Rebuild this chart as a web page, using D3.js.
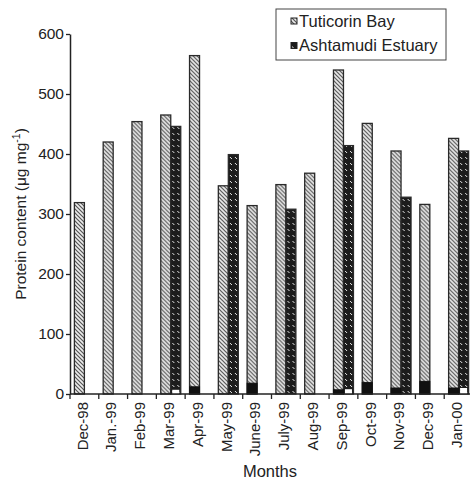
<!DOCTYPE html>
<html>
<head>
<meta charset="utf-8">
<script src="https://cdn.jsdelivr.net/npm/d3@7.9.0/dist/d3.min.js"></script>
<style>
  body { margin: 0; background: #fff; }
  svg { font-family: "Liberation Sans", Arial, sans-serif; }
</style>
</head>
<body>
<svg id="chart" width="476" height="481"></svg>
<script>
// data
const months = ['Dec-98', 'Jan.-99', 'Feb-99', 'Mar-99', 'Apr-99', 'May-99', 'June-99',
                'July-99', 'Aug-99', 'Sep-99', 'Oct-99', 'Nov-99', 'Dec-99', 'Jan-00'];
const tuticorin = [319, 420, 454, 465, 564, 347, 314, 349, 368, 540, 451, 405, 316, 426];
const ashtamudi = [null, null, null, 446, null, 399, null, 308, null, 414, null, 328, null, 405];
// small marks sitting at the foot of the bars
const tuticorinLow = [0, 0, 0, 0, 12, 0, 18, 0, 0, 7, 19, 10, 21, 10];
const ashtamudiLow = [0, 0, 0, 7, 0, 0, 0, 0, 0, 8, 0, 0, 0, 10];
const series = ['Tuticorin Bay', 'Ashtamudi Estuary'];
const yTicks = [0, 100, 200, 300, 400, 500, 600];

const svg = d3.select('#chart');
const plotLeft = 70, plotRight = 473, plotTop = 34, plotBottom = 394;

const x = d3.scaleBand().domain(months).range([plotLeft, plotRight]).padding(0);
const x1 = d3.scaleBand().domain(series).range([0, x.bandwidth()]).paddingInner(0).paddingOuter(0.44);
const y = d3.scaleLinear().domain([0, 600]).range([plotBottom, plotTop]);

// hatch patterns
const defs = svg.append('defs');
let p1 = defs.append('pattern').attr('id', 'hatchLight')
    .attr('patternUnits', 'userSpaceOnUse').attr('width', 4).attr('height', 4);
p1.append('rect').attr('width', 4).attr('height', 4).attr('fill', '#ececec');
p1.append('path').attr('d', 'M0,0 L4,4 M-1,3 L1,5 M3,-1 L5,1')
    .attr('stroke', '#555').attr('stroke-width', 1.2);

let p2 = defs.append('pattern').attr('id', 'hatchDark')
    .attr('patternUnits', 'userSpaceOnUse').attr('width', 5).attr('height', 6);
p2.append('rect').attr('width', 5).attr('height', 6).attr('fill', '#1c1c1c');
p2.append('path').attr('d', 'M1,1 L3,3').attr('stroke', '#e8e8e8').attr('stroke-width', 1);

const fills = { 'Tuticorin Bay': 'url(#hatchLight)', 'Ashtamudi Estuary': 'url(#hatchDark)' };

// bars
const rows = months.map((m, i) => ({
    month: m,
    vals: [
        { key: series[0], value: tuticorin[i], low: tuticorinLow[i] },
        { key: series[1], value: ashtamudi[i], low: ashtamudiLow[i] }
    ]
}));

const groups = svg.append('g').selectAll('g')
    .data(rows)
    .join('g')
    .attr('transform', d => `translate(${x(d.month)},0)`);

groups.selectAll('rect.bar')
    .data(d => d.vals.filter(v => v.value != null))
    .join('rect')
    .attr('class', 'bar')
    .attr('x', d => x1(d.key))
    .attr('width', x1.bandwidth())
    .attr('y', d => y(d.value))
    .attr('height', d => y(0) - y(d.value))
    .attr('fill', d => fills[d.key])
    .attr('stroke', '#2a2a2a')
    .attr('stroke-width', 1.3);

// little foot marks
groups.selectAll('rect.low')
    .data(d => d.vals.filter(v => v.low > 0))
    .join('rect')
    .attr('class', 'low')
    .attr('x', d => x1(d.key) + (d.key === series[0] ? 0 : 1.5))
    .attr('width', d => x1.bandwidth() - (d.key === series[0] ? 0 : 3))
    .attr('y', d => y(d.low))
    .attr('height', d => y(0) - y(d.low))
    .attr('fill', d => d.key === series[0] ? '#111' : '#fff')
    .attr('stroke', d => d.key === series[0] ? '#111' : 'none');

// y axis
const yAxis = svg.append('g')
    .attr('transform', `translate(${plotLeft},0)`)
    .call(d3.axisLeft(y).tickValues(yTicks).tickSize(4).tickSizeOuter(0).tickPadding(2));
yAxis.select('.domain').attr('stroke', '#222').attr('stroke-width', 1.5);
yAxis.selectAll('.tick line').attr('stroke', '#222').attr('stroke-width', 1.3);
yAxis.selectAll('.tick text').attr('font-size', 15.5).attr('fill', '#222')
    .attr('font-family', '"Liberation Sans", Arial, sans-serif');

// x axis with ticks between months
const xAxisG = svg.append('g');
xAxisG.append('line')
    .attr('x1', plotLeft).attr('x2', plotRight - 3)
    .attr('y1', plotBottom).attr('y2', plotBottom)
    .attr('stroke', '#222').attr('stroke-width', 1.5);
xAxisG.selectAll('line.sep')
    .data(months)
    .join('line')
    .attr('class', 'sep')
    .attr('x1', d => x(d)).attr('x2', d => x(d))
    .attr('y1', plotBottom).attr('y2', plotBottom + 5)
    .attr('stroke', '#222').attr('stroke-width', 1.3);
xAxisG.selectAll('text')
    .data(months)
    .join('text')
    .attr('transform', d => `translate(${x(d) + x.bandwidth() / 2 - 2},${plotBottom + 8}) rotate(-90)`)
    .attr('text-anchor', 'end')
    .attr('dy', '0.35em')
    .attr('font-size', 15)
    .attr('fill', '#222')
    .text(d => d);

// axis titles
svg.append('text')
    .attr('x', 270).attr('y', 477)
    .attr('text-anchor', 'middle')
    .attr('font-size', 16.5).attr('fill', '#222')
    .text('Months');

const yTitle = svg.append('text')
    .attr('transform', `translate(26,${(plotTop + plotBottom) / 2}) rotate(-90)`)
    .attr('text-anchor', 'middle')
    .attr('font-size', 15.5).attr('fill', '#222');
yTitle.append('tspan').text('Protein content (μg mg');
yTitle.append('tspan').attr('dy', -6).attr('font-size', 10.5).text('-1');
yTitle.append('tspan').attr('dy', 6).text(')');

// legend
const legend = svg.append('g').attr('transform', 'translate(276,9)');
legend.append('rect')
    .attr('width', 170).attr('height', 51)
    .attr('fill', '#fff').attr('stroke', '#444').attr('stroke-width', 1);
const items = legend.selectAll('g.item')
    .data(series)
    .join('g')
    .attr('class', 'item')
    .attr('transform', (d, i) => `translate(15,${12 + i * 24.5})`);
items.append('rect')
    .attr('x', 0).attr('y', -3).attr('width', 6).attr('height', 6)
    .attr('fill', d => fills[d]).attr('stroke', '#222').attr('stroke-width', 1);
items.append('text')
    .attr('x', 8).attr('y', 0).attr('dy', '0.35em')
    .attr('font-size', 16.5).attr('fill', '#222')
    .text(d => d);
</script>
</body>
</html>
